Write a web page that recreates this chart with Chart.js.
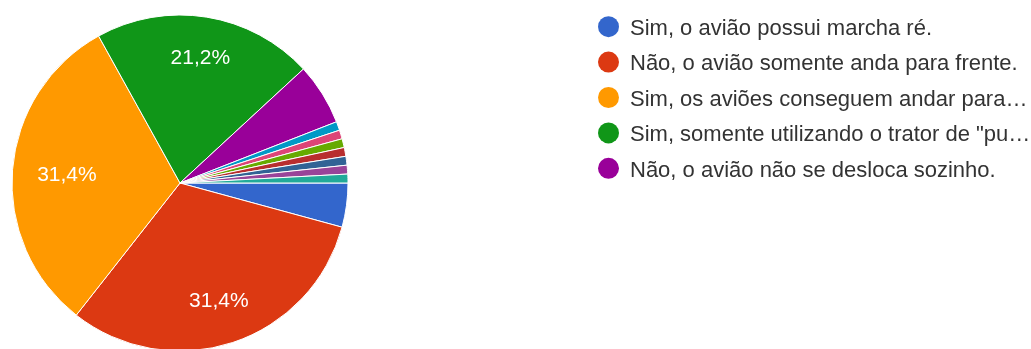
<!DOCTYPE html>
<html>
<head>
<meta charset="utf-8">
<script src="https://cdn.jsdelivr.net/npm/chart.js@4.4.1/dist/chart.umd.min.js"></script>
<style>
  html, body { margin: 0; padding: 0; background: #fff; overflow: hidden; }
  #wrap { position: relative; width: 1031px; height: 366px; }
</style>
</head>
<body>
<div id="wrap"><canvas id="pie" width="1031" height="366"></canvas></div>
<script>
const answers = [
  'Sim, o avião possui marcha ré.',
  'Não, o avião somente anda para frente.',
  'Sim, os aviões conseguem andar para…',
  'Sim, somente utilizando o trator de "pu…',
  'Não, o avião não se desloca sozinho.',
  'Outra resposta 1',
  'Outra resposta 2',
  'Outra resposta 3',
  'Outra resposta 4',
  'Outra resposta 5',
  'Outra resposta 6',
  'Outra resposta 7'
];
const responses = [5, 37, 37, 25, 7, 1, 1, 1, 1, 1, 1, 1];
const palette = [
  '#3366cc', '#dc3912', '#ff9900', '#109618', '#990099', '#0099c6',
  '#dd4477', '#66aa00', '#b82e2e', '#316395', '#994499', '#22aa99'
];
const legendCount = 5;

const FONT = '"Liberation Sans", Arial, sans-serif';

function pctText(v, total) {
  return (v / total * 100).toFixed(1).replace('.', ',') + '%';
}

// percentage text inside the larger slices; the text box is pushed out
// along the slice's middle angle until its outer corner reaches 0.857 R
const sliceLabels = {
  id: 'sliceLabels',
  afterDatasetsDraw(chart) {
    const ctx = chart.ctx;
    const data = chart.data.datasets[0].data;
    const total = data.reduce((a, b) => a + b, 0);
    const arcs = chart.getDatasetMeta(0).data;
    ctx.save();
    ctx.fillStyle = '#fff';
    ctx.font = '21px ' + FONT;
    ctx.textAlign = 'center';
    ctx.textBaseline = 'middle';
    arcs.forEach((arc, i) => {
      if (data[i] / total < 0.1) return;
      const p = arc.getProps(['x', 'y', 'startAngle', 'endAngle', 'outerRadius'], true);
      const mid = (p.startAngle + p.endAngle) / 2;
      const text = pctText(data[i], total);
      const w = ctx.measureText(text).width;
      const h = 18;
      const rt = p.outerRadius * 0.857;
      const b = w * Math.abs(Math.cos(mid)) + h * Math.abs(Math.sin(mid));
      const c = (w * w + h * h) / 4 - rt * rt;
      const r = (-b + Math.sqrt(b * b - 4 * c)) / 2;
      ctx.fillText(text, p.x + Math.cos(mid) * r, p.y + Math.sin(mid) * r + 1);
    });
    ctx.restore();
  }
};

// legend on the right, first entries only
const sideLegend = {
  id: 'sideLegend',
  afterDraw(chart) {
    const ctx = chart.ctx;
    const labels = chart.data.labels;
    const colors = chart.data.datasets[0].backgroundColor;
    ctx.save();
    ctx.font = '22px ' + FONT;
    ctx.textBaseline = 'alphabetic';
    for (let i = 0; i < legendCount; i++) {
      const cy = 26.7 + i * 35.4;
      ctx.beginPath();
      ctx.arc(608.5, cy, 10.5, 0, Math.PI * 2);
      ctx.fillStyle = colors[i];
      ctx.fill();
      ctx.fillStyle = '#333';
      ctx.fillText(labels[i], 630, cy + 8.3);
    }
    ctx.restore();
  }
};

new Chart(document.getElementById('pie'), {
  type: 'pie',
  data: {
    labels: answers,
    datasets: [{
      data: responses,
      backgroundColor: palette,
      borderColor: '#fff',
      borderWidth: 1
    }]
  },
  options: {
    responsive: false,
    animation: false,
    rotation: 90,
    radius: 168,
    layout: { padding: { left: 12, top: 15, right: 683, bottom: 15 } },
    plugins: {
      legend: { display: false },
      tooltip: { enabled: false }
    }
  },
  plugins: [sliceLabels, sideLegend]
});
</script>
</body>
</html>
